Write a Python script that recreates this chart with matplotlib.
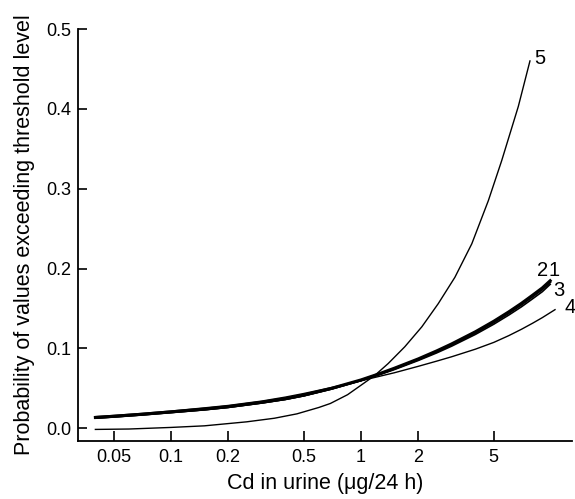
import numpy as np
import matplotlib
matplotlib.use("Agg")
import matplotlib.pyplot as plt
from matplotlib.ticker import FixedLocator, FixedFormatter, NullLocator

# ----------------------------------------------------------
# Data
# ----------------------------------------------------------
x_main = [0.04, 0.05, 0.07, 0.1, 0.15, 0.2, 0.3, 0.4, 0.5, 0.7, 1.0, 1.25,
          1.5, 2.0, 2.5, 3.0, 4.0, 5.0, 6.0, 7.0, 8.0, 9.0, 9.9]
curve_1 = [0.0135, 0.015, 0.0175, 0.0205, 0.024, 0.027, 0.0325, 0.037,
           0.0415, 0.050, 0.0605, 0.0683, 0.0752, 0.0868, 0.0968, 0.1056,
           0.1208, 0.134, 0.1458, 0.1565, 0.1666, 0.1757, 0.1847]
curve_2 = [0.013, 0.0145, 0.017, 0.020, 0.0235, 0.0265, 0.032, 0.0365,
           0.041, 0.0495, 0.060, 0.0677, 0.0745, 0.086, 0.0958, 0.1045,
           0.1195, 0.1326, 0.1443, 0.1549, 0.1649, 0.1739, 0.1829]
curve_3 = [0.0125, 0.014, 0.0165, 0.0195, 0.023, 0.026, 0.0315, 0.036,
           0.0405, 0.049, 0.0595, 0.067, 0.0735, 0.0848, 0.0943, 0.1028,
           0.1175, 0.1303, 0.1418, 0.1522, 0.1621, 0.171, 0.1802]

x_4 = [0.04, 0.05, 0.07, 0.1, 0.15, 0.2, 0.3, 0.4, 0.5, 0.7, 1.0, 1.25,
       1.5, 2.0, 2.5, 3.0, 4.0, 5.0, 6.0, 7.0, 8.0, 9.0, 10.5]
curve_4 = [0.0145, 0.016, 0.0185, 0.0215, 0.0255, 0.0285, 0.034, 0.039,
           0.0435, 0.051, 0.0595, 0.065, 0.0695, 0.0775, 0.084, 0.0895,
           0.099, 0.1075, 0.116, 0.124, 0.1315, 0.1385, 0.1485]

x_5 = [0.04, 0.06, 0.1, 0.15, 0.25, 0.35, 0.46, 0.6, 0.69, 0.85, 1.03, 1.18,
       1.39, 1.7, 2.09, 2.55, 3.12, 3.83, 4.68, 5.5, 6.73, 7.75]
curve_5 = [-0.0015, -0.001, 0.001, 0.003, 0.008, 0.0125, 0.018, 0.026, 0.031,
           0.042, 0.056, 0.066, 0.081, 0.102, 0.127, 0.156, 0.189, 0.231,
           0.285, 0.335, 0.403, 0.46]

x_ticks = [0.05, 0.1, 0.2, 0.5, 1, 2, 5]
x_tick_labels = ["0.05", "0.1", "0.2", "0.5", "1", "2", "5"]
y_ticks = [0.0, 0.1, 0.2, 0.3, 0.4, 0.5]
y_tick_labels = ["0.0", "0.1", "0.2", "0.3", "0.4", "0.5"]

plt.rcParams['font.family'] = ['Liberation Sans', 'DejaVu Sans']

# ----------------------------------------------------------
# Figure
# ----------------------------------------------------------
fig = plt.figure(figsize=(5.75, 4.99), dpi=100)
ax = fig.add_axes([78 / 575, 1 - 441 / 499, (572 - 78) / 575, (441 - 29) / 499])

ax.plot(x_main, curve_1, color='black', lw=2.2)
ax.plot(x_main, curve_2, color='black', lw=1.6)
ax.plot(x_main, curve_3, color='black', lw=1.2)
ax.plot(x_4, curve_4, color='black', lw=1.0)
ax.plot(x_5, curve_5, color='black', lw=1.0)

ax.set_xscale('log')
ax.set_xlim(0.0324, 12.9)
ax.set_ylim(-0.016, 0.5)

ax.xaxis.set_major_locator(FixedLocator(x_ticks))
ax.xaxis.set_major_formatter(FixedFormatter(x_tick_labels))
ax.xaxis.set_minor_locator(NullLocator())
ax.set_yticks(y_ticks)
ax.set_yticklabels(y_tick_labels)

ax.spines['top'].set_visible(False)
ax.spines['right'].set_visible(False)
ax.spines['left'].set_linewidth(1.3)
ax.spines['bottom'].set_linewidth(1.3)
ax.tick_params(axis='x', direction='in', length=7, width=1.2, pad=6, labelsize=13)
ax.tick_params(axis='y', direction='in', length=6.5, width=1.2, pad=5, labelsize=13)

ax.set_xlabel("Cd in urine (\u03bcg/24 h)", fontsize=15.5, labelpad=5)
ax.set_ylabel("Probability of values exceeding threshold level", fontsize=15.5, labelpad=8)

# curve labels
for txt, lx, ly in [("5", 8.75, 0.4625), ("2", 9.08, 0.1975), ("1", 10.37, 0.1975),
                    ("3", 11.0, 0.1725), ("4", 12.6, 0.151)]:
    ax.text(lx, ly, txt, fontsize=14.5, ha='center', va='center', clip_on=False)

fig.savefig("out.png", dpi=100)
